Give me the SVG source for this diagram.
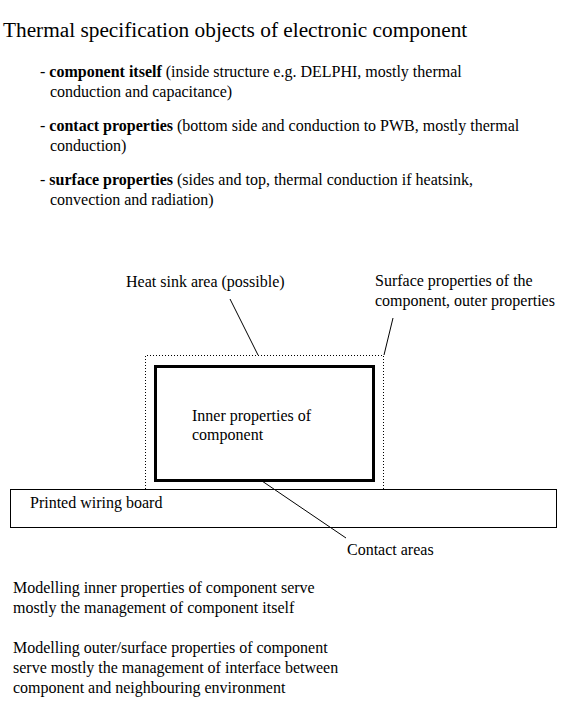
<svg xmlns="http://www.w3.org/2000/svg" width="568" height="703" viewBox="0 0 568 703">
<style>
text { font-family: "Liberation Serif", "Times New Roman", serif; fill: #000; }
.t { font-size: 21.3px; }
.s { font-size: 16px; }
.b { font-weight: bold; }
.ln { stroke: #000; stroke-width: 1; fill: none; }
.dot { stroke: #000; stroke-width: 1; fill: none; stroke-dasharray: 1 2; }
</style>
<rect width="568" height="703" fill="#fff"/>
<g id="title">
<text class="t" x="3" y="37">Thermal specification objects of electronic component</text>
</g>
<g id="bullets">
<text class="s" x="40" y="77">- <tspan class="b">component itself</tspan> (inside structure e.g. DELPHI, mostly thermal</text>
<text class="s" x="50" y="97">conduction and capacitance)</text>
<text class="s" x="40" y="131">- <tspan class="b">contact properties</tspan> (bottom side and conduction to PWB, mostly thermal</text>
<text class="s" x="50" y="151">conduction)</text>
<text class="s" x="40" y="185">- <tspan class="b">surface properties</tspan> (sides and top, thermal conduction if heatsink,</text>
<text class="s" x="50" y="205">convection and radiation)</text>
</g>
<g id="heatsink-area">
<path class="dot" d="M145.5,489 V355.5 H383.5 V489"/>
</g>
<g id="board">
<rect x="10.5" y="489.5" width="546" height="38" fill="#fff" stroke="#000" stroke-width="1"/>
<text class="s" x="30" y="508">Printed wiring board</text>
</g>
<g id="component">
<rect x="155.5" y="366.5" width="218" height="114" fill="none" stroke="#000" stroke-width="3"/>
<text class="s" x="192" y="421">Inner properties of</text>
<text class="s" x="192" y="440">component</text>
</g>
<g id="label-heatsink">
<text class="s" x="126" y="287">Heat sink area (possible)</text>
</g>
<g id="label-surface">
<text class="s" x="375" y="286">Surface properties of the</text>
<text class="s" x="375" y="306">component, outer properties</text>
</g>
<g id="label-contact">
<text class="s" x="347" y="555">Contact areas</text>
</g>
<g id="connectors">
<line class="ln" x1="230" y1="299" x2="258" y2="355"/>
<line class="ln" x1="393" y1="318" x2="384" y2="355"/>
<line class="ln" x1="262" y1="481" x2="346" y2="538"/>
</g>
<g id="notes">
<text class="s" x="13" y="593">Modelling inner properties of component serve</text>
<text class="s" x="13" y="613">mostly the management of component itself</text>
<text class="s" x="13" y="653">Modelling outer/surface properties of component</text>
<text class="s" x="13" y="673">serve mostly the management of interface between</text>
<text class="s" x="13" y="693">component and neighbouring environment</text>
</g>
</svg>
